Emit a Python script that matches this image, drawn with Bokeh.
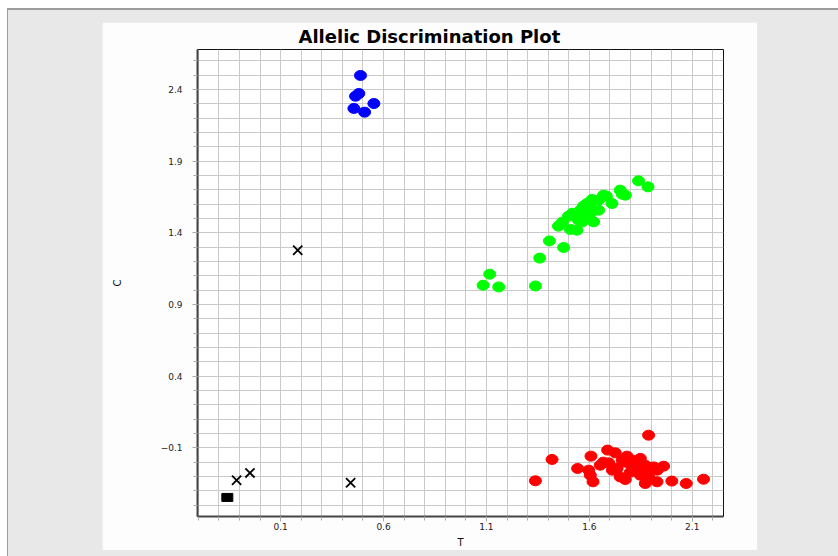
import numpy as np
from bokeh.plotting import figure
from bokeh.layouts import column
from bokeh.models import Range1d, FixedTicker
from bokeh.embed import file_html
from bokeh.resources import INLINE

# ---- data ----
blue_x = [0.488, 0.480, 0.464, 0.553, 0.456, 0.508]
blue_y = [2.498, 2.372, 2.353, 2.302, 2.268, 2.242]

green_x = [1.084, 1.116, 1.160, 1.338, 1.359, 1.406, 1.475, 1.450, 1.469, 1.508,
           1.540, 1.498, 1.517, 1.532, 1.556, 1.547, 1.565, 1.571, 1.589, 1.613,
           1.600, 1.621, 1.645, 1.645, 1.669, 1.683, 1.710, 1.750, 1.775, 1.760,
           1.839, 1.885, 1.580, 1.605]
green_y = [1.035, 1.112, 1.023, 1.030, 1.224, 1.344, 1.298, 1.447, 1.475, 1.424,
           1.419, 1.516, 1.537, 1.523, 1.558, 1.489, 1.477, 1.586, 1.605, 1.633,
           1.579, 1.477, 1.558, 1.628, 1.663, 1.656, 1.605, 1.698, 1.663, 1.670,
           1.763, 1.721, 1.530, 1.537]

red_x = [1.338, 1.419, 1.543, 1.608, 1.597, 1.618, 1.605, 1.653, 1.689, 1.726,
         1.694, 1.735, 1.750, 1.775, 1.783, 1.808, 1.848, 1.840, 1.888, 1.872,
         1.888, 1.912, 1.929, 1.961, 2.001, 2.071, 2.155, 1.775, 1.809, 1.833,
         1.872, 1.896, 1.848, 1.799, 1.712, 1.668, 1.760, 1.930, 1.872, 1.823]
red_y = [-0.329, -0.180, -0.243, -0.157, -0.255, -0.336, -0.290, -0.220, -0.115, -0.134,
         -0.204, -0.243, -0.302, -0.320, -0.157, -0.232, -0.173, -0.255, -0.011, -0.348,
         -0.302, -0.232, -0.336, -0.227, -0.331, -0.348, -0.318, -0.199, -0.185, -0.199,
         -0.220, -0.255, -0.290, -0.269, -0.255, -0.199, -0.185, -0.255, -0.276, -0.241]

undet_x = [-0.114, -0.049, 0.183, 0.440]
undet_y = [-0.325, -0.274, 1.279, -0.343]

ntc_x = [-0.159]
ntc_y = [-0.445]

x_major = [0.1, 0.6, 1.1, 1.6, 2.1]
y_major = [-0.1, 0.4, 0.9, 1.4, 1.9, 2.4]
x_minor = [round(v, 1) for v in np.arange(-0.3, 2.25, 0.1)]
y_minor = [round(v, 1) for v in np.arange(-0.5, 2.65, 0.1)]

FONT = "DejaVu Sans"

p = figure(width=655, height=528, output_backend="svg", toolbar_location=None,
           x_range=Range1d(-0.304, 2.252), y_range=Range1d(-0.578, 2.679),
           min_border_left=95, min_border_right=34, min_border_top=27, min_border_bottom=34,
           margin=(12, 0, 0, 94))
p.background_fill_color = "white"
p.border_fill_color = "#fdfdfd"
p.outline_line_color = "#111111"
p.outline_line_width = 1

p.title.text = "Allelic Discrimination Plot"
p.title.text_font = FONT
p.title.text_font_size = "18px"
p.title.text_font_style = "bold"
p.title.text_color = "#000000"
p.title.align = "left"
p.title.vertical_align = "top"
p.title.offset = 101
p.title.standoff = 2

# grids at every 0.1
for g, ticks in ((p.xgrid, x_minor), (p.ygrid, y_minor)):
    g.ticker = FixedTicker(ticks=ticks)
    g.grid_line_color = "#c9c9c9"
    g.grid_line_width = 1

for ax, major, minor in ((p.xaxis, x_major, x_minor), (p.yaxis, y_major, y_minor)):
    ax.ticker = FixedTicker(ticks=major, minor_ticks=minor)
    ax.axis_line_color = "#444444"
    ax.axis_line_width = 2
    ax.major_tick_line_color = "#aaaaaa"
    ax.minor_tick_line_color = "#aaaaaa"
    ax.major_tick_in = 0
    ax.minor_tick_in = 0
    ax.major_tick_out = 5
    ax.minor_tick_out = 4
    ax.major_label_text_font = FONT
    ax.major_label_text_font_size = "9px"
    ax.major_label_text_color = "#222222"
    ax.axis_label_text_font = FONT
    ax.axis_label_text_font_size = "10px"
    ax.axis_label_text_font_style = "normal"
    ax.axis_label_text_color = "#111111"

p.xaxis.axis_label = "T"
p.yaxis.axis_label = "C"
p.xaxis.major_label_standoff = 1
p.xaxis.axis_label_standoff = 4
p.yaxis.major_label_standoff = 10
p.yaxis.axis_label_standoff = 35

p.ellipse(blue_x, blue_y, width=12, height=10, width_units="screen", height_units="screen",
          fill_color="#0000ff", line_color="#0000ff")
p.ellipse(green_x, green_y, width=12, height=10, width_units="screen", height_units="screen",
          fill_color="#00ff00", line_color="#00ff00")
p.ellipse(red_x, red_y, width=12, height=10, width_units="screen", height_units="screen",
          fill_color="#ff0000", line_color="#ff0000")
p.scatter(undet_x, undet_y, marker="x", size=13, line_color="#000000", line_width=1.8)
p.rect(ntc_x, ntc_y, width=11, height=8, width_units="screen", height_units="screen",
       fill_color="#000000", line_color="#000000")

layout = column(p, width=831, height=548, margin=(8, 0, 0, 7),
                styles={"background-color": "#e8e8e8",
                        "border-top": "2px solid #9c9c9c",
                        "border-left": "1px solid #9c9c9c"})

open("out.html", "w").write(file_html(layout, INLINE))
